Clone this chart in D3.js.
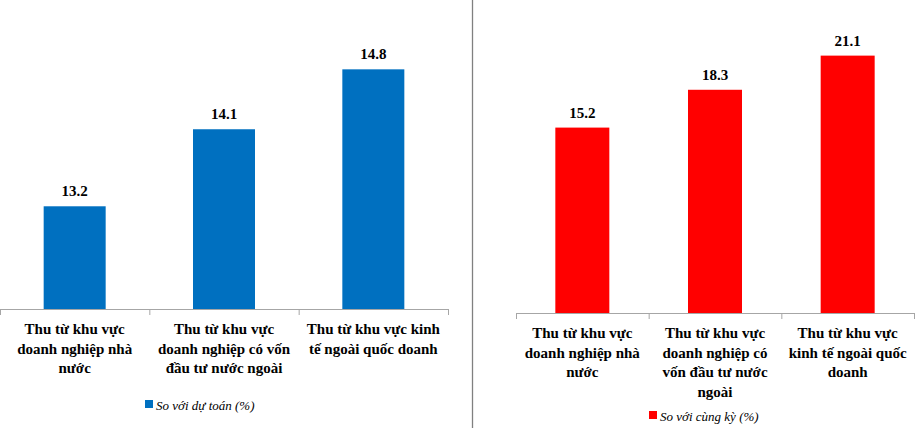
<!DOCTYPE html>
<html>
<head>
<meta charset="utf-8">
<script src="https://cdn.jsdelivr.net/npm/d3@7"></script>
<style>
  body { margin: 0; background: #fff; }
  text { font-family: "Liberation Serif", "Times New Roman", serif; }
</style>
</head>
<body>
<svg id="chart" width="918" height="428"></svg>
<script>
// data
var leftCategories = [
    ["Thu  từ khu vực", "doanh nghiệp nhà", "nước"],
    ["Thu  từ khu vực", "doanh nghiệp có vốn", "đầu tư nước ngoài"],
    ["Thu  từ khu vực kinh", "tế ngoài quốc doanh"]
];
var rightCategories = [
    ["Thu  từ khu vực", "doanh nghiệp nhà", "nước"],
    ["Thu  từ khu vực", "doanh nghiệp có", "vốn đầu tư nước", "ngoài"],
    ["Thu  từ khu vực", "kinh tế ngoài quốc", "doanh"]
];
var leftValues = [13.2, 14.1, 14.8];
var rightValues = [15.2, 18.3, 21.1];
var leftSeries = "So với dự toán (%)";
var rightSeries = "So với cùng kỳ (%)";

var svg = d3.select("#chart");

// divider between the two charts
svg.append("line")
    .attr("x1", 472.5).attr("x2", 472.5)
    .attr("y1", 0).attr("y2", 428)
    .attr("stroke", "#808080").attr("stroke-width", 1.3);

function drawPanel(opts){
    var g = svg.append("g");
    var idx = d3.range(opts.values.length);

    var x = d3.scaleBand().domain(idx).range([opts.x0, opts.x1]);
    var y = d3.scaleLinear().domain(opts.domain).range([opts.base, 0]);

    // axis line with category separators
    g.append("line")
        .attr("x1", opts.x0).attr("x2", opts.x1)
        .attr("y1", opts.base + 0.5).attr("y2", opts.base + 0.5)
        .attr("stroke", "#a6a6a6");
    var seps = idx.map(function(i){ return x(i); }).concat([opts.x1]);
    g.selectAll("line.tick").data(seps).enter().append("line")
        .attr("class", "tick")
        .attr("x1", function(d){ return d + 0.5; })
        .attr("x2", function(d){ return d + 0.5; })
        .attr("y1", opts.base).attr("y2", opts.base + 6)
        .attr("stroke", "#a6a6a6");

    var cx = function(i){ return x(i) + x.bandwidth() / 2; };

    g.selectAll("rect").data(opts.values).enter().append("rect")
        .attr("x", function(d, i){ return cx(i) - opts.barW / 2; })
        .attr("width", opts.barW)
        .attr("y", function(d){ return y(d); })
        .attr("height", function(d){ return opts.base - y(d); })
        .attr("fill", opts.color);

    g.selectAll("text.val").data(opts.values).enter().append("text")
        .attr("class", "val")
        .attr("x", function(d, i){ return cx(i); })
        .attr("y", function(d){ return y(d) - 10; })
        .attr("text-anchor", "middle")
        .attr("font-size", 15).attr("font-weight", "bold")
        .text(function(d){ return d.toFixed(1); });

    opts.categories.forEach(function(lines, i){
        var t = g.append("text")
            .attr("text-anchor", "middle")
            .attr("font-size", 15).attr("font-weight", "bold")
            .attr("fill", "#000");
        lines.forEach(function(s, k){
            t.append("tspan")
                .attr("x", cx(i))
                .attr("y", opts.base + 25 + k * 19.5)
                .text(s);
        });
    });

    // legend
    g.append("rect")
        .attr("x", opts.legX).attr("y", opts.legY - 10)
        .attr("width", 8).attr("height", 8)
        .attr("fill", opts.color);
    g.append("text")
        .attr("x", opts.legX + 11).attr("y", opts.legY)
        .attr("font-size", 13).attr("font-style", "italic")
        .text(opts.series);
}

drawPanel({
    values: leftValues, categories: leftCategories, series: leftSeries,
    x0: 0, x1: 448, base: 309, domain: [12, 15.61],
    barW: 62, color: "#0070c0", legX: 145, legY: 410
});

drawPanel({
    values: rightValues, categories: rightCategories, series: rightSeries,
    x0: 516, x1: 914, base: 313, domain: [0, 25.66],
    barW: 54, color: "#ff0000", legX: 649, legY: 421
});
</script>
</body>
</html>
